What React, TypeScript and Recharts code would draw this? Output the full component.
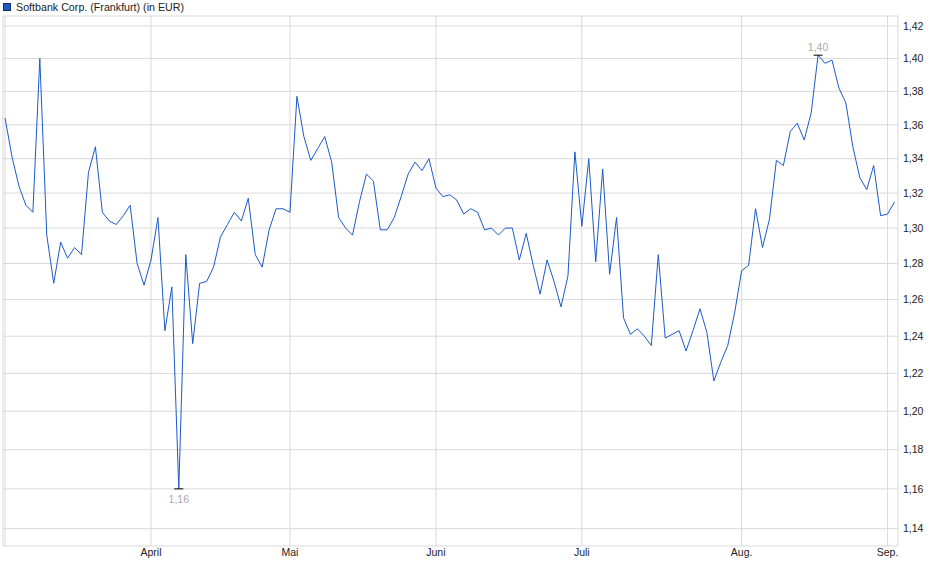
import React from 'react'
import { LineChart, Line, XAxis, YAxis, CartesianGrid, ReferenceArea, ReferenceDot } from 'recharts'

// daily closes, one per trading day from early March to early September
const prices = [
    1.364, 1.341, 1.324, 1.313, 1.309, 1.400, 1.296, 1.269, 1.292, 1.283,
    1.289, 1.285, 1.332, 1.347, 1.309, 1.304, 1.302, 1.307, 1.313, 1.280,
    1.268, 1.282, 1.306, 1.243, 1.267, 1.160, 1.285, 1.236, 1.269, 1.270,
    1.278, 1.295, 1.302, 1.309, 1.304, 1.317, 1.285, 1.278, 1.299, 1.311,
    1.311, 1.309, 1.377, 1.353, 1.339, 1.346, 1.353, 1.338, 1.306, 1.300,
    1.296, 1.315, 1.331, 1.327, 1.299, 1.299, 1.306, 1.318, 1.331, 1.338,
    1.333, 1.340, 1.323, 1.318, 1.319, 1.316, 1.308, 1.311, 1.309, 1.299,
    1.300, 1.296, 1.300, 1.300, 1.282, 1.297, 1.279, 1.263, 1.282, 1.270,
    1.256, 1.273, 1.344, 1.301, 1.340, 1.281, 1.334, 1.274, 1.306, 1.250,
    1.241, 1.244, 1.240, 1.235, 1.285, 1.239, 1.241, 1.243, 1.232, 1.243,
    1.255, 1.242, 1.216, 1.226, 1.235, 1.253, 1.276, 1.279, 1.311, 1.289,
    1.305, 1.339, 1.336, 1.356, 1.361, 1.351, 1.367, 1.402, 1.397, 1.399,
    1.382, 1.373, 1.347, 1.329, 1.322, 1.336, 1.307, 1.308, 1.315,
]

// index of the first trading day of each month
const monthTicks = [0, 21, 41, 62, 83, 106, 127]
const monthLabels = ['', 'April', 'Mai', 'Juni', 'Juli', 'Aug.', 'Sep.']

const priceTicks = [1.14, 1.16, 1.18, 1.2, 1.22, 1.24, 1.26, 1.28, 1.3, 1.32, 1.34, 1.36, 1.38, 1.4, 1.42]

const data = prices.map((v, i) => ({ i, v }))

const minValue = Math.min(...prices)
const maxValue = Math.max(...prices)
const minIdx = prices.indexOf(minValue)
const maxIdx = prices.indexOf(maxValue)

const fmt = (v: number) => v.toFixed(2).replace('.', ',')

const BLUE = '#1c5ac8'
const GRID = '#d9d9d9'

function ExtremeMark(props: any) {
    const { cx, cy, below, value } = props
    return (
        <g>
            <line x1={cx - 4.5} x2={cx + 4.5} y1={cy} y2={cy} stroke="#000" strokeWidth={1} />
            <text
                x={cx}
                y={below ? cy + 10 : cy - 8.5}
                textAnchor="middle"
                dominantBaseline="central"
                fill="#aaa9a6"
                fontSize={10.5}
            >
                {fmt(value)}
            </text>
        </g>
    )
}

export default function App() {
    return (
        <div style={{ position: 'absolute', left: 0, top: 0, width: 940, height: 579, fontFamily: '"Liberation Sans", Arial, sans-serif', background: '#fff' }}>
            <div style={{ position: 'absolute', left: 3, top: 0, height: 13, display: 'flex', alignItems: 'center', fontSize: 10.7, color: '#222' }}>
                <span style={{ display: 'inline-block', width: 6, height: 6, background: BLUE, border: '1px solid #1b2f66', marginRight: 5 }} />
                Softbank Corp. (Frankfurt) (in EUR)
            </div>
            <LineChart width={940} height={579} data={data} margin={{ top: 16, right: 0, bottom: 13, left: 3 }}>
                <CartesianGrid stroke={GRID} />
                <XAxis
                    dataKey="i"
                    type="number"
                    domain={[-0.3, 128.5]}
                    ticks={monthTicks}
                    tickFormatter={(v: number) => monthLabels[monthTicks.indexOf(v)] ?? ''}
                    height={20}
                    tickSize={3}
                    tickMargin={0}
                    tickLine={false}
                    axisLine={false}
                    tick={{ fill: '#222', fontSize: 10.5 }}
                    interval={0}
                />
                <YAxis
                    orientation="right"
                    type="number"
                    scale="log"
                    domain={[1.1314, 1.4262]}
                    allowDataOverflow
                    ticks={priceTicks}
                    tickFormatter={fmt}
                    width={42}
                    tickSize={5}
                    tickMargin={0}
                    tickLine={false}
                    axisLine={false}
                    tick={{ fill: '#222', fontSize: 10.5 }}
                    interval={0}
                />
                <ReferenceArea fill="none" stroke={GRID} ifOverflow="visible" />
                <Line
                    type="linear"
                    dataKey="v"
                    stroke={BLUE}
                    strokeWidth={1}
                    dot={false}
                    activeDot={false}
                    isAnimationActive={false}
                />
                <ReferenceDot x={minIdx} y={minValue} shape={(p: any) => <ExtremeMark {...p} below value={minValue} />} />
                <ReferenceDot x={maxIdx} y={maxValue} shape={(p: any) => <ExtremeMark {...p} value={maxValue} />} />
            </LineChart>
        </div>
    )
}
